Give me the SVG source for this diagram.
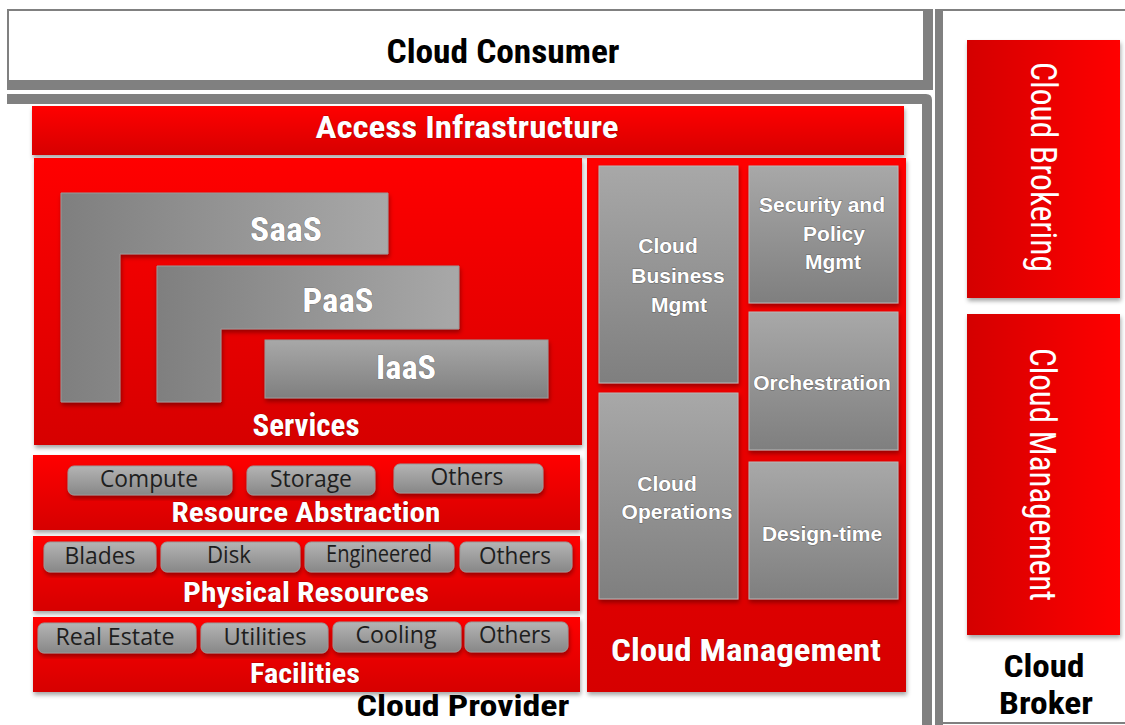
<svg xmlns="http://www.w3.org/2000/svg" width="1125" height="725" viewBox="0 0 1125 725">
<defs>
<linearGradient id="redV" x1="0" y1="0" x2="0" y2="1"><stop offset="0" stop-color="#ff0000"/><stop offset="1" stop-color="#d60000"/></linearGradient>
<linearGradient id="redH" x1="0" y1="0" x2="1" y2="0"><stop offset="0" stop-color="#d40000"/><stop offset="1" stop-color="#ff0000"/></linearGradient>
<linearGradient id="grayV" x1="0" y1="0" x2="0" y2="1"><stop offset="0" stop-color="#a8a8a8"/><stop offset="1" stop-color="#7f7f7f"/></linearGradient>
<linearGradient id="grayH" x1="0" y1="0" x2="1" y2="0"><stop offset="0" stop-color="#7f7f7f"/><stop offset="1" stop-color="#a8a8a8"/></linearGradient>
<linearGradient id="btn" x1="0" y1="0" x2="0" y2="1"><stop offset="0" stop-color="#b4b4b4"/><stop offset="1" stop-color="#878787"/></linearGradient>
<filter id="sh" x="-10%" y="-10%" width="120%" height="130%"><feDropShadow dx="1" dy="3" stdDeviation="2" flood-color="#000" flood-opacity="0.35"/></filter>
</defs>
<style>
.lbl{font-family:"Liberation Sans Narrow","Roboto Condensed","Liberation Sans",Arial,sans-serif;font-weight:bold;fill:#fff;text-anchor:middle;stroke:#7a0000;stroke-width:0.6;paint-order:stroke}
.blk{font-family:"Liberation Sans Narrow","Roboto Condensed","Liberation Sans",Arial,sans-serif;font-weight:bold;fill:#000;text-anchor:middle}
.gt{font-family:"Liberation Sans",Arial,sans-serif;font-weight:bold;font-size:21px;fill:#fff;text-anchor:middle;stroke:#444;stroke-width:1;stroke-opacity:0.6;paint-order:stroke}
.bt{font-family:"Open Sans","Noto Sans","Liberation Sans",sans-serif;font-size:23px;fill:#1e1e1e;text-anchor:middle}
.vt{font-family:"Liberation Sans Narrow","Roboto Condensed","Liberation Sans",Arial,sans-serif;font-size:36px;fill:#fff;text-anchor:middle}
.red{fill:url(#redV);filter:url(#sh)}
.redh{fill:url(#redH);filter:url(#sh)}
.gbox{fill:url(#grayV);stroke:#b8b8b8;stroke-width:1;filter:url(#sh)}
.btn{fill:url(#btn);stroke:#9a9a9a;stroke-width:1;filter:url(#sh)}
.frame{fill:#808080}
</style>

<g id="frames">
  <rect class="frame" x="7" y="9" width="926" height="81"/>
  <rect x="9" y="11" width="914" height="69" fill="#fff"/>
  <path class="frame" d="M7 94 H926 Q932 94 932 100 V725 H922 V104 H7 Z"/>
  <rect class="frame" x="935" y="9" width="8" height="716"/>
  <rect class="frame" x="943" y="9" width="182" height="2"/>
  <rect class="frame" x="943" y="722" width="182" height="2"/>
</g>

<g id="cloud-consumer">
  <text class="blk" x="503" y="63" font-size="33" textLength="233" lengthAdjust="spacingAndGlyphs">Cloud Consumer</text>
</g>

<g id="access-infrastructure">
  <rect class="red" x="32" y="106" width="872" height="49"/>
  <text class="lbl" x="467" y="138" font-size="31" textLength="303" lengthAdjust="spacingAndGlyphs">Access Infrastructure</text>
</g>

<g id="services">
  <rect class="red" x="34" y="158" width="548" height="287"/>
  <g id="saas">
    <path d="M61 193 H388 V254 H120 V402 H61 Z" fill="url(#grayH)" stroke="#9a9a9a" stroke-width="1" filter="url(#sh)"/>
    <text class="lbl" x="286" y="241" font-size="33" textLength="72" lengthAdjust="spacingAndGlyphs" style="stroke:#555">SaaS</text>
  </g>
  <g id="paas">
    <path d="M157 266 H459 V329 H221 V402 H157 Z" fill="url(#grayH)" stroke="#9a9a9a" stroke-width="1" filter="url(#sh)"/>
    <text class="lbl" x="338" y="312" font-size="33" textLength="71" lengthAdjust="spacingAndGlyphs" style="stroke:#555">PaaS</text>
  </g>
  <g id="iaas">
    <rect x="265" y="340" width="283" height="58" fill="url(#grayV)" stroke="#9a9a9a" stroke-width="1" filter="url(#sh)"/>
    <text class="lbl" x="406" y="379" font-size="33" textLength="60" lengthAdjust="spacingAndGlyphs" style="stroke:#555">IaaS</text>
  </g>
  <text class="lbl" x="306" y="436" font-size="32" textLength="107" lengthAdjust="spacingAndGlyphs">Services</text>
</g>

<g id="resource-abstraction">
  <rect class="red" x="33" y="455" width="547" height="75"/>
  <rect class="btn" x="68" y="466" width="164" height="29" rx="6"/>
  <text class="bt" x="149" y="487" textLength="98" lengthAdjust="spacingAndGlyphs">Compute</text>
  <rect class="btn" x="247" y="466" width="128" height="29" rx="6"/>
  <text class="bt" x="311" y="487" textLength="82" lengthAdjust="spacingAndGlyphs">Storage</text>
  <rect class="btn" x="394" y="464" width="149" height="29" rx="6"/>
  <text class="bt" x="467" y="485" textLength="73" lengthAdjust="spacingAndGlyphs">Others</text>
  <text class="lbl" x="306" y="522" font-size="28" textLength="269" lengthAdjust="spacingAndGlyphs">Resource Abstraction</text>
</g>

<g id="physical-resources">
  <rect class="red" x="33" y="536" width="547" height="75"/>
  <rect class="btn" x="44" y="542" width="112" height="30" rx="6"/>
  <text class="bt" x="100" y="564" textLength="71" lengthAdjust="spacingAndGlyphs">Blades</text>
  <rect class="btn" x="161" y="542" width="139" height="30" rx="6"/>
  <text class="bt" x="229" y="563" textLength="44" lengthAdjust="spacingAndGlyphs">Disk</text>
  <rect class="btn" x="305" y="542" width="149" height="30" rx="6"/>
  <text class="bt" x="379" y="562" textLength="106" lengthAdjust="spacingAndGlyphs">Engineered</text>
  <rect class="btn" x="460" y="542" width="112" height="30" rx="6"/>
  <text class="bt" x="515" y="564" textLength="72" lengthAdjust="spacingAndGlyphs">Others</text>
  <text class="lbl" x="306" y="602" font-size="28" textLength="246" lengthAdjust="spacingAndGlyphs">Physical Resources</text>
</g>

<g id="facilities">
  <rect class="red" x="33" y="617" width="547" height="75"/>
  <rect class="btn" x="38" y="623" width="158" height="30" rx="6"/>
  <text class="bt" x="115" y="645" textLength="119" lengthAdjust="spacingAndGlyphs">Real Estate</text>
  <rect class="btn" x="201" y="623" width="127" height="30" rx="6"/>
  <text class="bt" x="265" y="645" textLength="83" lengthAdjust="spacingAndGlyphs">Utilities</text>
  <rect class="btn" x="333" y="622" width="128" height="30" rx="6"/>
  <text class="bt" x="396" y="643" textLength="81" lengthAdjust="spacingAndGlyphs">Cooling</text>
  <rect class="btn" x="465" y="622" width="103" height="30" rx="6"/>
  <text class="bt" x="515" y="643" textLength="72" lengthAdjust="spacingAndGlyphs">Others</text>
  <text class="lbl" x="305" y="683" font-size="28" textLength="110" lengthAdjust="spacingAndGlyphs">Facilities</text>
</g>

<g id="cloud-provider">
  <text class="blk" x="463" y="716" font-size="30" textLength="213" lengthAdjust="spacingAndGlyphs">Cloud Provider</text>
</g>

<g id="cloud-management-provider">
  <rect class="red" x="587" y="158" width="319" height="534"/>
  <g id="cloud-business-mgmt">
    <rect class="gbox" x="599" y="166" width="139" height="217"/>
    <text class="gt" x="668" y="253">Cloud</text>
    <text class="gt" x="678" y="283">Business</text>
    <text class="gt" x="679" y="312">Mgmt</text>
  </g>
  <g id="security-policy-mgmt">
    <rect class="gbox" x="749" y="166" width="149" height="137"/>
    <text class="gt" x="822" y="212">Security and</text>
    <text class="gt" x="834" y="241">Policy</text>
    <text class="gt" x="833" y="269">Mgmt</text>
  </g>
  <g id="orchestration">
    <rect class="gbox" x="749" y="312" width="149" height="138"/>
    <text class="gt" x="822" y="390">Orchestration</text>
  </g>
  <g id="cloud-operations">
    <rect class="gbox" x="599" y="393" width="139" height="206"/>
    <text class="gt" x="667" y="491">Cloud</text>
    <text class="gt" x="677" y="519">Operations</text>
  </g>
  <g id="design-time">
    <rect class="gbox" x="749" y="462" width="149" height="137"/>
    <text class="gt" x="822" y="541">Design-time</text>
  </g>
  <text class="lbl" x="746" y="661" font-size="32" textLength="270" lengthAdjust="spacingAndGlyphs">Cloud Management</text>
</g>

<g id="cloud-brokering">
  <rect class="redh" x="967" y="40" width="153" height="258"/>
  <text class="vt" transform="translate(1031,167) rotate(90)" textLength="210" lengthAdjust="spacingAndGlyphs">Cloud Brokering</text>
</g>

<g id="cloud-management-broker">
  <rect class="redh" x="967" y="314" width="153" height="321"/>
  <text class="vt" transform="translate(1030,474.5) rotate(90)" textLength="253" lengthAdjust="spacingAndGlyphs">Cloud Management</text>
</g>

<g id="cloud-broker">
  <text class="blk" x="1044" y="677" font-size="32" textLength="81" lengthAdjust="spacingAndGlyphs">Cloud</text>
  <text class="blk" x="1046" y="714" font-size="31" textLength="94" lengthAdjust="spacingAndGlyphs">Broker</text>
</g>

<g id="connectors"></g>
</svg>
